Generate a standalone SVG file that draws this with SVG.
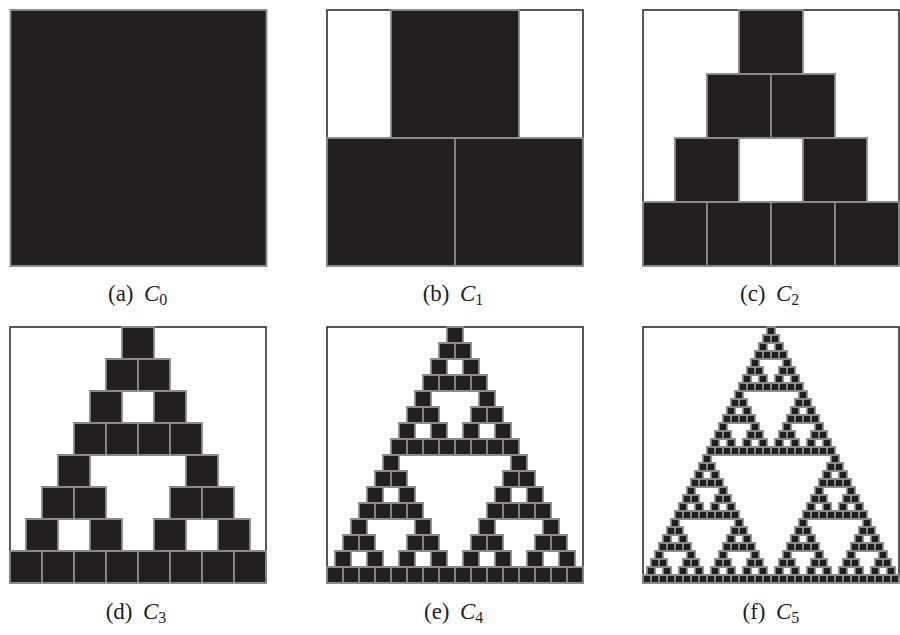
<svg xmlns="http://www.w3.org/2000/svg" xmlns:xlink="http://www.w3.org/1999/xlink" width="900" height="635" viewBox="0 0 900 635">
<style>
.cell{fill:#231f20;stroke:#8a8a8a;stroke-width:1.8;vector-effect:non-scaling-stroke}
.frame{fill:#fff;stroke:#231f20;stroke-width:1.5}
.lab{font-family:"Liberation Serif","Times New Roman",serif;font-size:23px;fill:#231f20}
.it{font-style:italic}
.sub{font-size:16px}
</style>
<defs>
<rect id="t0" class="cell" x="0" y="0" width="1" height="1"/>
<g id="t1"><use href="#t0" x="0.5" y="0"/><use href="#t0" x="0" y="1"/><use href="#t0" x="1" y="1"/></g>
<g id="t2"><use href="#t1" x="1" y="0"/><use href="#t1" x="0" y="2"/><use href="#t1" x="2" y="2"/></g>
<g id="t3"><use href="#t2" x="2" y="0"/><use href="#t2" x="0" y="4"/><use href="#t2" x="4" y="4"/></g>
<g id="t4"><use href="#t3" x="4" y="0"/><use href="#t3" x="0" y="8"/><use href="#t3" x="8" y="8"/></g>
<g id="t5"><use href="#t4" x="8" y="0"/><use href="#t4" x="0" y="16"/><use href="#t4" x="16" y="16"/></g>
</defs>
<g id="panel-a">
<use href="#t0" transform="translate(10.5,10) scale(256)"/>
<text class="lab" x="133.5" y="301" text-anchor="end">(a)</text>
<text class="lab" x="144" y="301"><tspan class="it">C</tspan><tspan class="sub" dy="4">0</tspan></text>
</g>
<g id="panel-b">
<rect class="frame" x="327" y="10" width="256" height="256"/>
<use href="#t1" transform="translate(327,10) scale(128)"/>
<text class="lab" x="449.5" y="301" text-anchor="end">(b)</text>
<text class="lab" x="460" y="301"><tspan class="it">C</tspan><tspan class="sub" dy="4">1</tspan></text>
</g>
<g id="panel-c">
<rect class="frame" x="643" y="10" width="256" height="256"/>
<use href="#t2" transform="translate(643,10) scale(64)"/>
<text class="lab" x="765.5" y="301" text-anchor="end">(c)</text>
<text class="lab" x="776" y="301"><tspan class="it">C</tspan><tspan class="sub" dy="4">2</tspan></text>
</g>
<g id="panel-d">
<rect class="frame" x="10" y="327" width="256" height="256"/>
<use href="#t3" transform="translate(10,327) scale(32)"/>
<text class="lab" x="132.5" y="619" text-anchor="end">(d)</text>
<text class="lab" x="143" y="619"><tspan class="it">C</tspan><tspan class="sub" dy="4">3</tspan></text>
</g>
<g id="panel-e">
<rect class="frame" x="327" y="327" width="256" height="256"/>
<use href="#t4" transform="translate(327,327) scale(16)"/>
<text class="lab" x="449.5" y="619" text-anchor="end">(e)</text>
<text class="lab" x="460" y="619"><tspan class="it">C</tspan><tspan class="sub" dy="4">4</tspan></text>
</g>
<g id="panel-f">
<rect class="frame" x="643" y="327" width="256" height="256"/>
<use href="#t5" transform="translate(643,327) scale(8)"/>
<text class="lab" x="765.5" y="619" text-anchor="end">(f)</text>
<text class="lab" x="776" y="619"><tspan class="it">C</tspan><tspan class="sub" dy="4">5</tspan></text>
</g>
</svg>
